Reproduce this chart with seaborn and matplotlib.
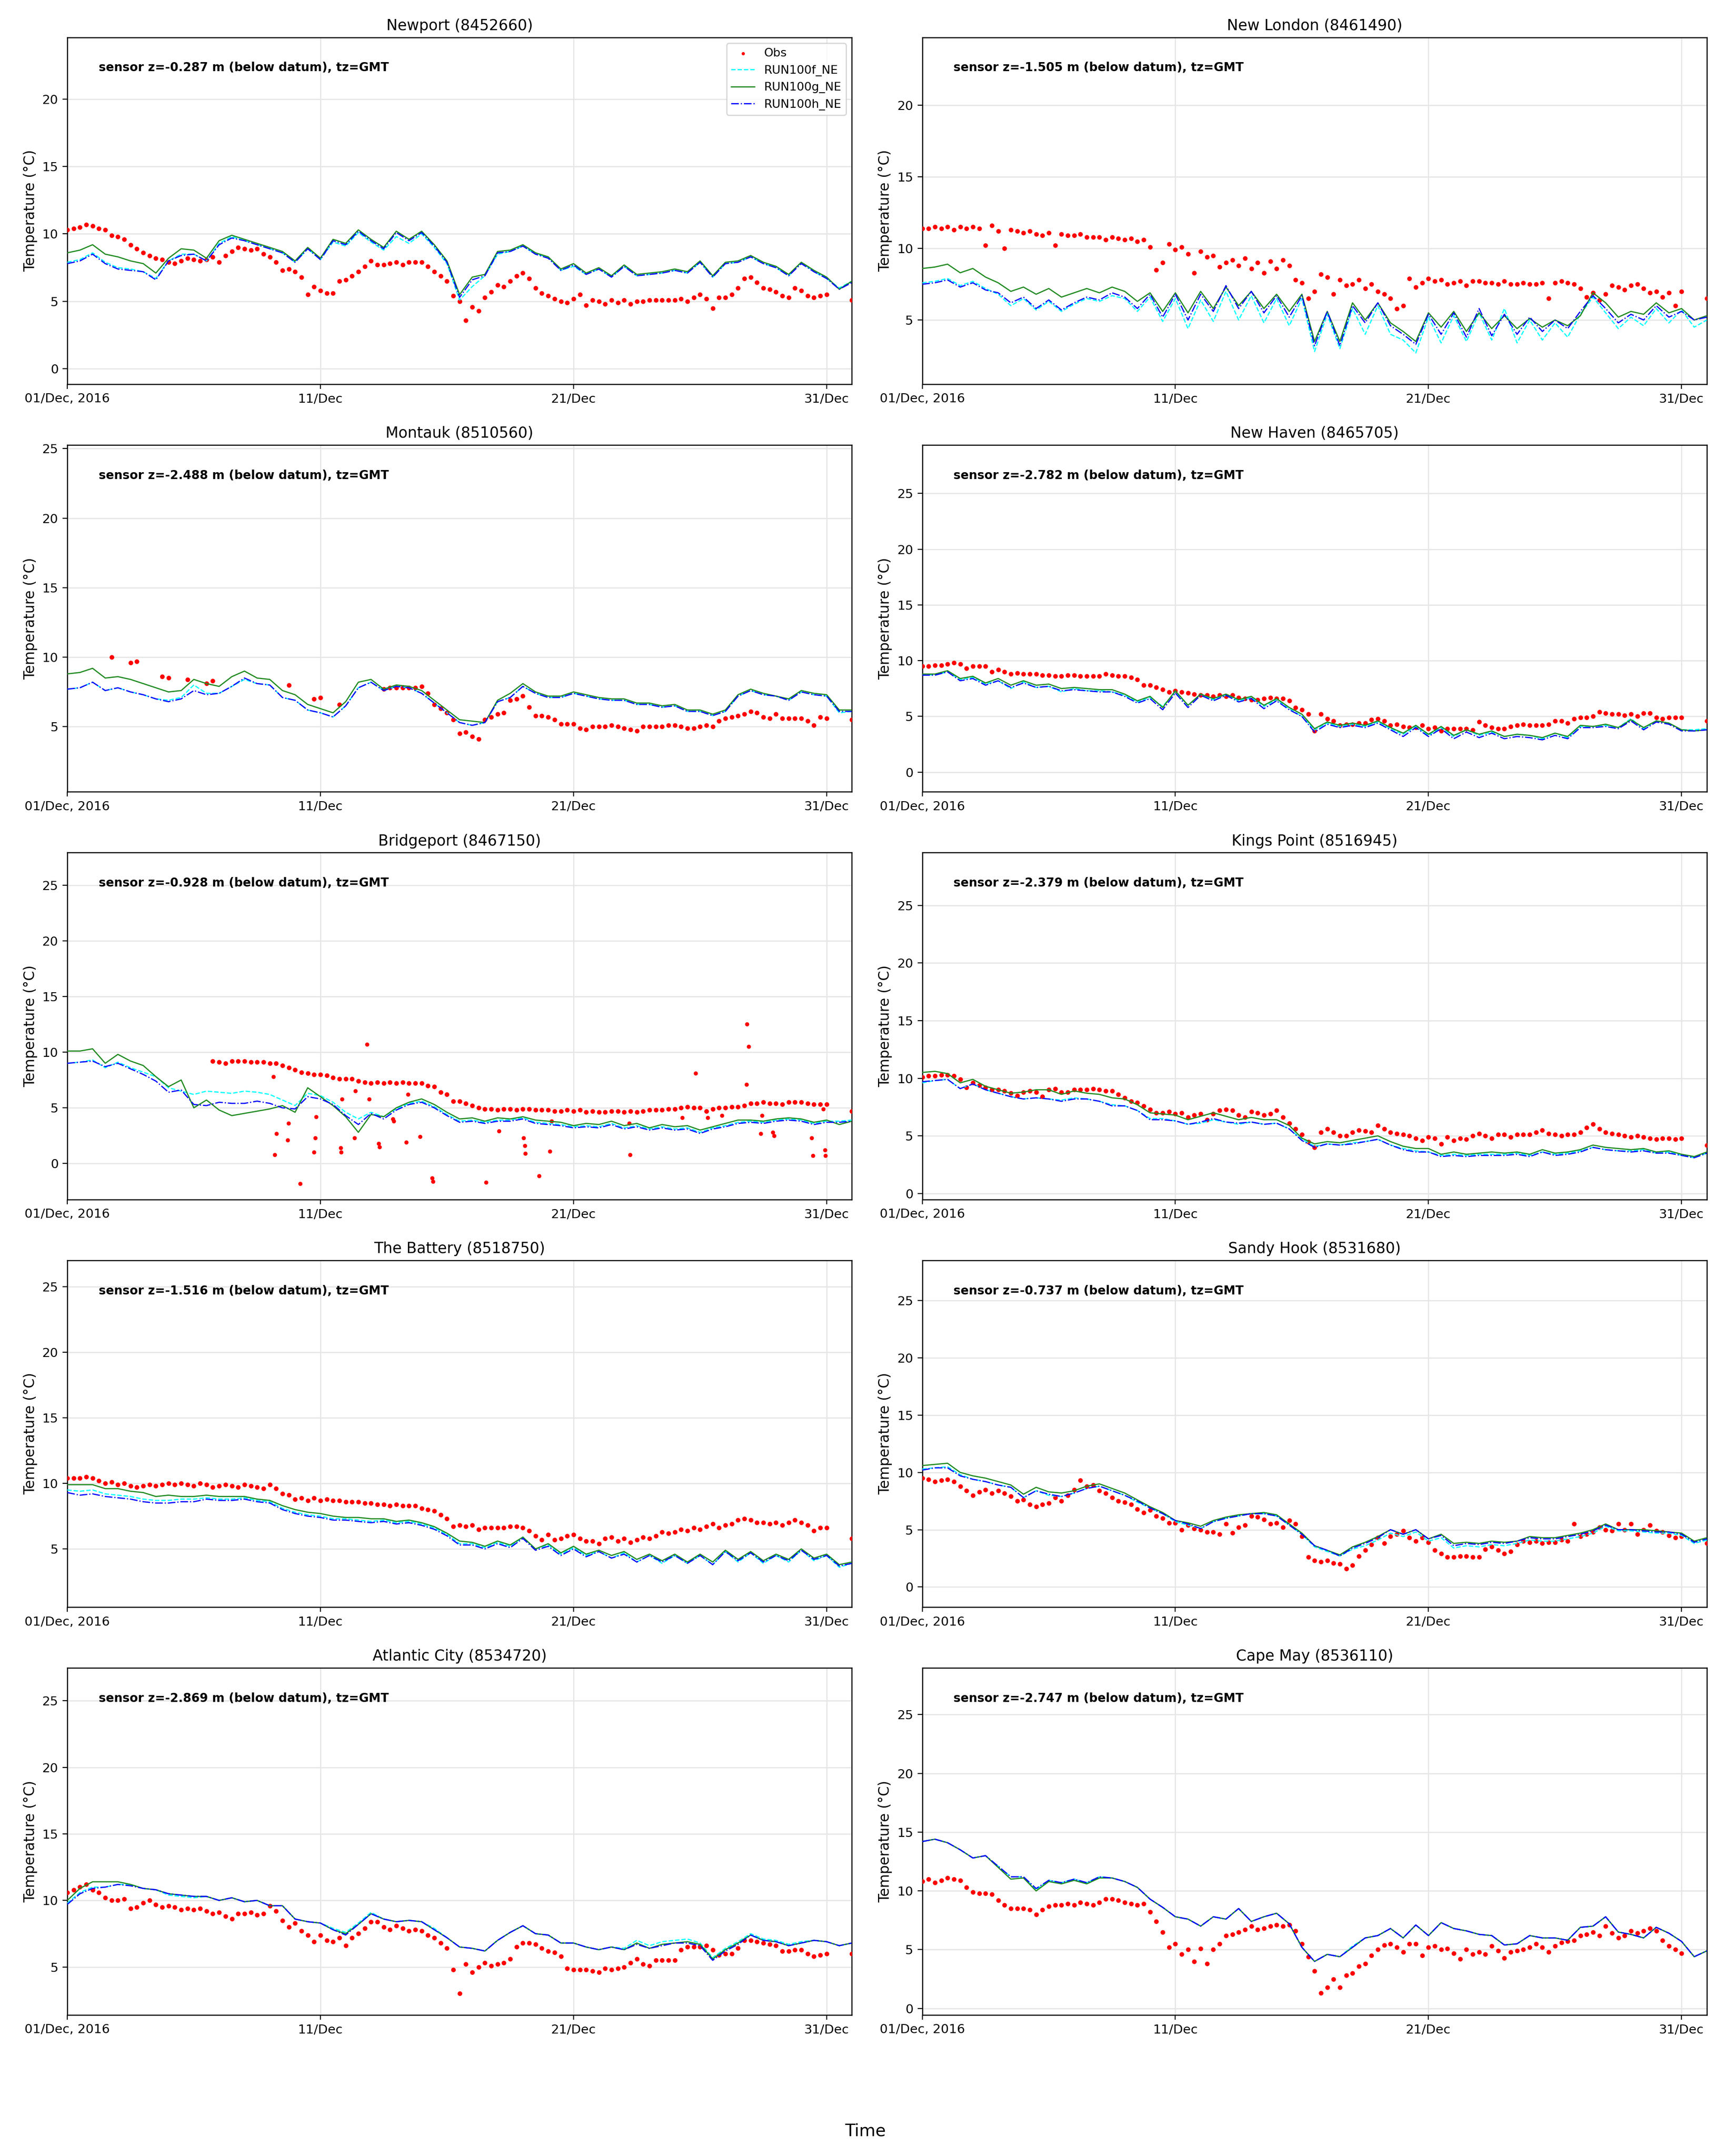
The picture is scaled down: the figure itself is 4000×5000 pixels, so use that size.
import numpy as np
import pandas as pd
import matplotlib
matplotlib.use("Agg")
import matplotlib.pyplot as plt
from matplotlib.ticker import MultipleLocator
import seaborn as sns

nan = np.nan

# time axes: obs every 6 h, model runs every 12 h, both from 01 Dec 2016 00:00 GMT
t_start = "2016-12-01 00:00"
obs_freq = "6h"
model_freq = "12h"

tick_days = ["2016-12-01", "2016-12-11", "2016-12-21", "2016-12-31"]
tick_labels = ["01/Dec, 2016", "11/Dec", "21/Dec", "31/Dec"]

station_names = ["Newport (8452660)", "New London (8461490)", "Montauk (8510560)",
                 "New Haven (8465705)", "Bridgeport (8467150)", "Kings Point (8516945)",
                 "The Battery (8518750)", "Sandy Hook (8531680)", "Atlantic City (8534720)",
                 "Cape May (8536110)"]
sensor_z = ["-0.287", "-1.505", "-2.488", "-2.782", "-0.928",
            "-2.379", "-1.516", "-0.737", "-2.869", "-2.747"]
y_limits = [(-1.13, 24.57), (0.52, 24.75), (0.32, 25.26), (-1.76, 29.35), (-3.23, 27.92),
            (-0.52, 29.58), (0.56, 27.02), (-1.76, 28.52), (1.41, 27.46), (-0.54, 28.97)]

run_names = ["RUN100f_NE", "RUN100g_NE", "RUN100h_NE"]

# ---------------- Newport ----------------
newport_obs = [
    10.3, 10.4, 10.5, 10.7,  10.6, 10.4, 10.3, 9.9,  9.8, 9.6, 9.2, 8.9,  8.6, 8.4, 8.2, 8.1,
    7.9, 7.8, 8.0, 8.2,  8.1, 8.0, 8.1, 8.3,  7.9, 8.4, 8.7, 9.0,  8.9, 8.8, 8.9, 8.5,
    8.3, 7.9, 7.3, 7.4,  7.2, 6.8, 5.5, 6.1,  5.8, 5.6, 5.6, 6.5,  6.6, 6.9, 7.2, 7.6,
    8.0, 7.7, 7.7, 7.8,  7.9, 7.7, 7.9, 7.9,  7.9, 7.6, 7.2, 6.9,  6.5, 5.4, 5.0, 3.6,
    4.6, 4.3, 5.3, 5.7,  6.2, 6.1, 6.5, 6.9,  7.1, 6.7, 6.0, 5.6,  5.4, 5.2, 5.0, 4.9,
    5.2, 5.5, 4.7, 5.1,  5.0, 4.8, 5.1, 4.9,  5.1, 4.8, 5.0, 5.0,  5.1, 5.1, 5.1, 5.1,
    5.1, 5.2, 5.0, 5.3,  5.5, 5.2, 4.5, 5.3,  5.3, 5.5, 6.0, 6.7,  6.8, 6.4, 6.0, 5.9,
    5.7, 5.4, 5.3, 6.0,  5.8, 5.4, 5.3, 5.4,  5.5, nan, nan, nan,  5.1]
newport_f = [
    7.9, 8.1, 8.6, 7.9, 7.5, 7.4, 7.2, 6.7, 8.0, 8.5,
    8.5, 8.0, 9.3, 9.8, 9.5, 9.2, 8.9, 8.6, 7.9, 8.9,
    8.1, 9.4, 9.1, 10.1, 9.4, 8.8, 9.8, 9.3, 10.0, 9.0,
    7.8, 5.1, 6.1, 6.9, 8.5, 8.7, 9.1, 8.5, 8.3, 7.3,
    7.6, 7.0, 7.4, 6.8, 7.6, 6.9, 7.0, 7.1, 7.3, 7.1,
    7.9, 6.8, 7.8, 7.9, 8.3, 7.8, 7.5, 6.9, 7.9, 7.2,
    6.7, 6.0, 6.5]
newport_g = [
    8.6, 8.8, 9.2, 8.5, 8.3, 8.0, 7.8, 7.1, 8.2, 8.9,
    8.8, 8.2, 9.5, 9.9, 9.6, 9.3, 9.0, 8.7, 8.0, 9.0,
    8.2, 9.6, 9.3, 10.3, 9.6, 9.0, 10.2, 9.6, 10.2, 9.2,
    8.0, 5.5, 6.8, 7.0, 8.7, 8.8, 9.2, 8.6, 8.3, 7.4,
    7.8, 7.1, 7.5, 6.9, 7.7, 7.0, 7.1, 7.2, 7.4, 7.2,
    8.0, 6.9, 7.9, 8.0, 8.4, 7.9, 7.6, 7.0, 7.9, 7.3,
    6.8, 5.9, 6.5]
newport_h = [
    7.8, 8.0, 8.5, 7.8, 7.4, 7.3, 7.2, 6.6, 8.0, 8.4,
    8.5, 8.0, 9.2, 9.7, 9.5, 9.2, 8.9, 8.6, 7.9, 8.9,
    8.1, 9.5, 9.2, 10.2, 9.5, 8.9, 10.1, 9.5, 10.1, 9.1,
    7.9, 5.3, 6.6, 6.9, 8.6, 8.7, 9.1, 8.5, 8.2, 7.3,
    7.7, 7.0, 7.4, 6.8, 7.6, 6.9, 7.0, 7.1, 7.3, 7.1,
    7.9, 6.8, 7.8, 7.9, 8.3, 7.8, 7.5, 6.9, 7.8, 7.2,
    6.7, 5.9, 6.4]

# ---------------- New London ----------------
newlondon_obs = [
    11.4, 11.4, 11.5, 11.4,  11.5, 11.3, 11.5, 11.4,  11.5, 11.4, 10.2, 11.6,  11.2, 10.0, 11.3, 11.2,
    11.1, 11.2, 11.0, 10.9,  11.1, 10.2, 11.0, 10.9,  10.9, 11.0, 10.8, 10.8,  10.8, 10.6, 10.8, 10.7,
    10.6, 10.7, 10.5, 10.6,  10.1, 8.5, 9.0, 10.3,  9.9, 10.1, 9.6, 8.3,  9.8, 9.4, 9.5, 8.7,
    9.0, 9.2, 8.8, 9.3,  8.6, 9.0, 8.3, 9.1,  8.6, 9.2, 8.8, 7.8,  7.6, 6.5, 7.0, 8.2,
    8.0, 6.8, 7.8, 7.4,  7.5, 7.8, 7.2, 7.5,  7.0, 6.8, 6.5, 5.8,  6.0, 7.9, 7.3, 7.6,
    7.9, 7.7, 7.8, 7.5,  7.6, 7.7, 7.4, 7.7,  7.7, 7.6, 7.6, 7.5,  7.7, 7.5, 7.5, 7.6,
    7.5, 7.5, 7.6, 6.5,  7.6, 7.7, 7.6, 7.5,  7.2, 6.6, 6.9, 6.4,  6.8, 7.4, 7.3, 7.1,
    7.4, 7.5, 7.2, 6.9,  7.0, 6.6, 6.9, 6.0,  7.0, nan, nan, nan,  6.5]
newlondon_f = [
    7.6, 7.7, 7.9, 7.4, 7.7, 7.2, 6.8, 6.0, 6.5, 5.7,
    6.3, 5.6, 6.1, 6.5, 6.3, 6.7, 6.5, 5.6, 6.6, 4.9,
    6.5, 4.4, 6.4, 4.9, 7.0, 5.0, 6.7, 4.8, 6.5, 4.6,
    6.5, 2.8, 5.4, 3.0, 5.8, 4.0, 6.0, 4.0, 3.6, 2.7,
    5.2, 3.4, 5.3, 3.5, 5.5, 3.6, 5.8, 3.4, 5.0, 3.6,
    4.8, 3.8, 5.4, 6.6, 5.5, 4.4, 5.2, 4.6, 5.8, 4.8,
    5.7, 4.5, 5.0]
newlondon_g = [
    8.6, 8.7, 8.9, 8.3, 8.6, 8.0, 7.6, 7.0, 7.3, 6.8,
    7.2, 6.6, 6.9, 7.2, 6.9, 7.3, 7.0, 6.3, 6.9, 5.6,
    6.9, 5.5, 7.0, 5.8, 7.3, 6.0, 7.0, 5.8, 6.8, 5.6,
    6.8, 3.5, 5.6, 3.5, 6.2, 5.0, 6.2, 4.8, 4.2, 3.5,
    5.5, 4.5, 5.6, 4.2, 5.5, 4.4, 5.3, 4.4, 5.1, 4.5,
    5.0, 4.6, 5.3, 6.9, 6.2, 5.2, 5.6, 5.4, 6.2, 5.5,
    5.8, 5.0, 5.3]
newlondon_h = [
    7.5, 7.6, 7.8, 7.3, 7.6, 7.1, 6.9, 6.2, 6.6, 5.8,
    6.4, 5.7, 6.2, 6.6, 6.4, 6.9, 6.6, 5.8, 6.8, 5.2,
    6.8, 5.0, 6.8, 5.6, 7.4, 5.8, 7.0, 5.5, 6.7, 5.2,
    6.7, 3.2, 5.6, 3.2, 6.0, 4.8, 6.2, 4.6, 4.0, 3.3,
    5.4, 4.0, 5.5, 3.8, 5.8, 3.9, 5.4, 4.0, 5.2, 4.2,
    5.0, 4.4, 5.6, 6.7, 5.8, 4.8, 5.4, 5.0, 6.0, 5.2,
    5.6, 5.0, 5.2]

# ---------------- Montauk ----------------
montauk_obs = [
    nan, nan, nan, nan,  nan, nan, nan, 10.0,  nan, nan, 9.6, 9.7,  nan, nan, nan, 8.6,
    8.5, nan, nan, 8.4,  nan, nan, 8.1, 8.3,  nan, nan, nan, nan,  nan, nan, nan, nan,
    nan, nan, nan, 8.0,  nan, nan, nan, 7.0,  7.1, nan, nan, 6.6,  nan, nan, nan, nan,
    nan, nan, 7.7, 7.8,  7.8, 7.8, 7.8, 7.8,  7.9, 7.4, 6.6, 6.3,  6.0, 5.5, 4.5, 4.6,
    4.3, 4.1, 5.5, 5.7,  5.9, 6.0, 6.9, 7.0,  7.2, 6.4, 5.8, 5.8,  5.7, 5.5, 5.2, 5.2,
    5.2, 4.9, 4.8, 5.0,  5.0, 5.0, 5.1, 5.0,  4.9, 4.8, 4.7, 5.0,  5.0, 5.0, 5.0, 5.1,
    5.1, 5.0, 4.9, 4.9,  5.0, 5.1, 5.0, 5.4,  5.6, 5.7, 5.8, 5.9,  6.1, 6.0, 5.7, 5.6,
    5.9, 5.6, 5.6, 5.6,  5.6, 5.4, 5.1, 5.7,  5.6, nan, nan, nan,  5.5]
montauk_f = [
    7.7, 7.8, 8.2, 7.6, 7.8, 7.5, 7.3, 7.0, 6.9, 7.1,
    8.0, 7.4, 7.4, 7.9, 8.4, 8.1, 8.0, 7.1, 6.9, 6.2,
    6.0, 5.7, 6.5, 7.8, 8.2, 7.6, 7.9, 7.8, 7.4, 6.7,
    6.0, 5.3, 5.1, 5.3, 6.8, 7.1, 7.9, 7.4, 7.1, 7.1,
    7.4, 7.2, 7.0, 6.9, 6.9, 6.6, 6.6, 6.4, 6.5, 6.1,
    6.1, 5.8, 6.1, 7.2, 7.6, 7.3, 7.2, 6.9, 7.5, 7.3,
    7.2, 6.0, 6.1]
montauk_g = [
    8.8, 8.9, 9.2, 8.5, 8.6, 8.4, 8.1, 7.8, 7.5, 7.6,
    8.4, 8.1, 7.9, 8.6, 9.0, 8.5, 8.4, 7.6, 7.3, 6.6,
    6.3, 6.0, 6.8, 8.2, 8.4, 7.7, 8.0, 7.9, 7.6, 6.9,
    6.2, 5.5, 5.4, 5.3, 6.9, 7.4, 8.1, 7.5, 7.2, 7.2,
    7.5, 7.3, 7.1, 7.0, 7.0, 6.7, 6.7, 6.5, 6.6, 6.2,
    6.2, 5.9, 6.2, 7.3, 7.7, 7.4, 7.2, 7.0, 7.6, 7.4,
    7.3, 6.2, 6.2]
montauk_h = [
    7.7, 7.8, 8.2, 7.6, 7.8, 7.5, 7.3, 7.0, 6.8, 7.0,
    7.6, 7.3, 7.4, 7.9, 8.5, 8.1, 8.0, 7.1, 6.9, 6.2,
    6.0, 5.7, 6.5, 7.8, 8.2, 7.6, 7.9, 7.8, 7.4, 6.7,
    6.0, 5.3, 5.1, 5.3, 6.8, 7.1, 7.9, 7.4, 7.1, 7.1,
    7.4, 7.2, 7.0, 6.9, 6.9, 6.6, 6.6, 6.4, 6.5, 6.1,
    6.1, 5.8, 6.1, 7.2, 7.6, 7.3, 7.2, 6.9, 7.5, 7.3,
    7.2, 6.1, 6.1]

# ---------------- New Haven ----------------
newhaven_obs = [
    9.5, 9.5, 9.6, 9.6,  9.7, 9.8, 9.7, 9.3,  9.5, 9.5, 9.5, 9.0,  9.2, 9.0, 8.8, 8.9,
    8.8, 8.8, 8.8, 8.7,  8.7, 8.6, 8.6, 8.7,  8.7, 8.6, 8.6, 8.6,  8.6, 8.8, 8.7, 8.6,
    8.6, 8.5, 8.3, 7.8,  7.8, 7.6, 7.4, 7.2,  7.3, 7.2, 7.1, 7.0,  6.9, 6.9, 6.8, 6.9,
    6.8, 6.9, 6.7, 6.6,  6.5, 6.5, 6.6, 6.7,  6.6, 6.6, 6.4, 5.8,  5.6, 5.2, 3.7, 5.2,
    4.8, 4.6, 4.2, 4.3,  4.3, 4.4, 4.4, 4.7,  4.8, 4.6, 4.2, 4.3,  4.1, 4.0, 4.0, 4.2,
    3.9, 4.0, 3.7, 3.9,  3.9, 3.9, 3.9, 3.8,  4.5, 4.2, 4.0, 3.9,  3.9, 4.1, 4.2, 4.3,
    4.2, 4.2, 4.2, 4.3,  4.6, 4.6, 4.4, 4.8,  4.9, 4.9, 5.0, 5.4,  5.3, 5.2, 5.2, 5.1,
    5.2, 5.0, 5.3, 5.3,  4.9, 4.8, 4.9, 4.9,  4.9, nan, nan, nan,  4.6]
newhaven_f = [
    8.8, 8.7, 9.0, 8.3, 8.5, 7.9, 8.2, 7.5, 8.1, 7.6,
    7.7, 7.2, 7.5, 7.3, 7.3, 7.2, 6.9, 6.3, 6.7, 5.9,
    7.2, 6.0, 7.0, 6.5, 6.9, 6.4, 6.7, 5.9, 6.5, 5.7,
    5.0, 3.8, 4.4, 4.1, 4.3, 4.1, 4.5, 3.9, 3.4, 4.1,
    3.3, 4.0, 3.2, 3.8, 3.3, 3.6, 3.2, 3.4, 3.3, 3.0,
    3.5, 3.1, 4.1, 4.1, 4.2, 4.0, 4.8, 3.9, 4.6, 4.4,
    3.8, 3.8, 3.9]
newhaven_g = [
    8.8, 8.8, 9.1, 8.4, 8.6, 8.0, 8.4, 7.8, 8.2, 7.8,
    7.9, 7.5, 7.6, 7.5, 7.4, 7.4, 7.0, 6.4, 6.8, 5.8,
    7.3, 6.0, 7.0, 6.6, 7.0, 6.5, 6.8, 6.0, 6.6, 5.8,
    5.2, 3.9, 4.5, 4.2, 4.4, 4.2, 4.6, 4.0, 3.5, 4.2,
    3.4, 4.1, 3.3, 3.8, 3.4, 3.7, 3.2, 3.4, 3.3, 3.1,
    3.5, 3.2, 4.2, 4.1, 4.3, 4.0, 4.7, 4.0, 4.6, 4.4,
    3.8, 3.7, 3.8]
newhaven_h = [
    8.7, 8.7, 9.0, 8.2, 8.4, 7.8, 8.2, 7.6, 8.0, 7.6,
    7.7, 7.3, 7.4, 7.3, 7.2, 7.2, 6.8, 6.2, 6.6, 5.6,
    7.1, 5.8, 6.9, 6.4, 6.9, 6.3, 6.6, 5.7, 6.4, 5.6,
    5.0, 3.6, 4.3, 4.0, 4.2, 4.0, 4.4, 3.8, 3.2, 4.0,
    3.2, 3.9, 3.0, 3.6, 3.1, 3.5, 3.0, 3.2, 3.1, 2.9,
    3.3, 3.0, 4.0, 4.0, 4.1, 3.9, 4.6, 3.8, 4.5, 4.3,
    3.7, 3.7, 3.8]

# ---------------- Bridgeport ----------------
bridgeport_obs = [
    nan, nan, nan, nan,  nan, nan, nan, nan,  nan, nan, nan, nan,  nan, nan, nan, nan,
    nan, nan, nan, nan,  nan, nan, nan, 9.2,  9.1, 9.0, 9.2, 9.2,  9.2, 9.1, 9.1, 9.1,
    9.0, 9.0, 8.8, 8.6,  8.4, 8.2, 8.1, 8.0,  8.0, 7.9, 7.7, 7.6,  7.6, 7.6, 7.4, 7.3,
    7.2, 7.3, 7.2, 7.3,  7.2, 7.3, 7.2, 7.2,  7.2, 7.0, 6.9, 6.4,  6.2, 5.6, 5.6, 5.4,
    5.2, 5.0, 4.9, 4.9,  4.8, 4.9, 4.9, 4.8,  4.9, 4.9, 4.8, 4.8,  4.8, 4.7, 4.7, 4.8,
    4.7, 4.8, 4.6, 4.7,  4.6, 4.6, 4.7, 4.7,  4.6, 4.7, 4.6, 4.7,  4.8, 4.8, 4.8, 4.9,
    4.9, 5.0, 5.1, 5.0,  5.0, 4.7, 4.9, 5.0,  5.0, 5.1, 5.1, 5.2,  5.4, 5.4, 5.5, 5.4,
    5.4, 5.3, 5.5, 5.5,  5.5, 5.4, 5.3, 5.3,  5.3, nan, nan, nan,  4.7]
# isolated spikes in the Bridgeport record (days after 01 Dec 00:00, temperature)
bridgeport_spike_day = [8.15, 8.26, 8.19, 8.70, 8.74, 9.20, 9.74, 9.79, 9.83, 10.80,
                        10.82, 10.86, 11.34, 11.38, 11.84, 11.93, 12.30, 12.34, 12.87, 12.89,
                        13.40, 13.46, 13.94, 14.42, 14.44, 16.54, 17.06, 18.03, 18.07, 18.10,
                        18.64, 19.07, 19.14, 22.24, 22.20, 24.30, 24.82, 25.30, 25.87, 26.85,
                        26.92, 26.83, 27.40, 27.44, 27.88, 27.92, 29.40, 29.45, 29.93, 29.96,
                        29.87]
bridgeport_spike_temp = [7.8, 2.7, 0.8, 2.1, 3.6, -1.8, 1.0, 2.3, 4.2, 1.4,
                         1.0, 5.8, 2.3, 6.5, 10.7, 5.8, 1.8, 1.5, 4.0, 3.8,
                         1.9, 6.2, 2.4, -1.3, -1.6, -1.7, 2.9, 2.3, 1.6, 0.9,
                         -1.1, 1.1, 3.8, 0.8, 3.6, 4.1, 8.1, 4.1, 4.3, 12.5,
                         10.5, 7.1, 2.7, 4.3, 2.8, 2.5, 2.3, 0.7, 1.2, 0.7,
                         4.9]
bridgeport_f = [
    9.0, 9.1, 9.3, 8.6, 9.1, 8.6, 8.2, 7.8, 6.8, 6.5,
    6.2, 6.5, 6.4, 6.3, 6.5, 6.4, 6.2, 5.7, 5.2, 6.3,
    6.1, 5.5, 4.6, 4.0, 4.6, 4.2, 4.9, 5.4, 5.6, 5.1,
    4.4, 3.8, 3.9, 3.7, 3.9, 3.9, 4.1, 3.7, 3.6, 3.5,
    3.3, 3.4, 3.3, 3.6, 3.2, 3.4, 3.1, 3.3, 3.1, 3.2,
    2.8, 3.2, 3.4, 3.7, 3.8, 3.7, 3.9, 4.0, 3.9, 3.6,
    3.8, 3.8, 3.9]
bridgeport_g = [
    10.1, 10.1, 10.3, 9.0, 9.8, 9.2, 8.8, 7.8, 6.9, 7.5,
    5.0, 5.7, 4.8, 4.3, 4.5, 4.7, 4.9, 5.2, 4.6, 6.8,
    6.0, 5.2, 4.2, 2.8, 4.4, 4.2, 5.0, 5.5, 5.8, 5.3,
    4.6, 4.0, 4.1, 3.8, 4.1, 4.0, 4.2, 3.9, 3.8, 3.7,
    3.4, 3.6, 3.5, 3.8, 3.4, 3.6, 3.2, 3.5, 3.3, 3.4,
    3.0, 3.3, 3.6, 3.9, 3.9, 3.8, 4.0, 4.1, 4.0, 3.7,
    3.9, 3.5, 3.8]
bridgeport_h = [
    9.0, 9.1, 9.2, 8.7, 9.0, 8.5, 8.0, 7.4, 6.4, 6.6,
    5.3, 5.2, 5.5, 5.4, 5.4, 5.6, 5.4, 5.0, 4.9, 6.0,
    5.8, 5.3, 4.3, 3.5, 4.5, 4.0, 4.8, 5.3, 5.5, 5.0,
    4.3, 3.7, 3.8, 3.6, 3.8, 3.8, 4.0, 3.6, 3.5, 3.4,
    3.2, 3.3, 3.2, 3.5, 3.1, 3.3, 3.0, 3.2, 3.0, 3.1,
    2.7, 3.1, 3.3, 3.6, 3.7, 3.6, 3.8, 3.9, 3.8, 3.5,
    3.7, 3.7, 3.8]

# ---------------- Kings Point ----------------
kingspoint_obs = [
    10.1, 10.2, 10.2, 10.3,  10.3, 10.2, 9.9, 9.2,  9.6, 9.4, 9.2, 9.0,  9.0, 8.9, 8.7, 8.5,
    8.8, 8.9, 8.8, 8.4,  9.0, 9.1, 8.8, 8.8,  9.0, 9.0, 9.0, 9.1,  9.0, 8.9, 8.9, 8.6,
    8.3, 8.0, 7.9, 7.6,  7.3, 7.0, 7.0, 7.1,  6.9, 7.0, 6.6, 6.8,  6.9, 6.4, 6.9, 7.2,
    7.3, 7.2, 6.8, 6.6,  7.1, 7.0, 6.8, 6.9,  7.2, 6.6, 6.1, 5.6,  5.1, 4.5, 4.0, 5.3,
    5.6, 5.3, 5.0, 5.0,  5.3, 5.5, 5.4, 5.3,  5.9, 5.6, 5.3, 5.2,  5.1, 5.0, 4.8, 4.6,
    4.9, 4.8, 4.3, 4.9,  4.6, 4.8, 4.7, 5.0,  5.2, 5.0, 4.8, 5.1,  5.1, 4.9, 5.1, 5.1,
    5.1, 5.3, 5.5, 5.2,  5.1, 5.0, 5.1, 5.1,  5.3, 5.7, 6.0, 5.6,  5.3, 5.2, 5.1, 5.0,
    4.9, 5.0, 4.9, 4.8,  4.7, 4.8, 4.8, 4.7,  4.8, nan, nan, nan,  4.2]
kingspoint_f = [
    9.6, 9.8, 9.9, 9.1, 9.5, 9.0, 8.7, 8.4, 8.2, 8.3,
    8.2, 8.1, 8.3, 8.2, 8.0, 7.7, 7.6, 7.2, 6.5, 6.5,
    6.3, 6.0, 6.1, 6.4, 6.2, 6.0, 6.2, 6.0, 6.1, 5.6,
    4.7, 4.1, 4.3, 4.2, 4.4, 4.5, 4.7, 4.2, 3.9, 3.7,
    3.6, 3.3, 3.4, 3.3, 3.4, 3.4, 3.4, 3.5, 3.3, 3.6,
    3.4, 3.5, 3.7, 4.0, 3.8, 3.7, 3.7, 3.8, 3.5, 3.6,
    3.3, 3.1, 3.5]
kingspoint_g = [
    10.5, 10.6, 10.4, 9.6, 9.9, 9.3, 9.0, 8.7, 8.8, 9.0,
    9.0, 8.6, 8.9, 8.7, 8.6, 8.3, 8.2, 7.7, 7.0, 6.9,
    6.8, 6.4, 6.7, 7.0, 6.7, 6.4, 6.6, 6.4, 6.4, 5.9,
    4.8, 4.3, 4.5, 4.4, 4.6, 4.8, 5.0, 4.5, 4.1, 3.9,
    3.9, 3.4, 3.6, 3.4, 3.5, 3.6, 3.5, 3.6, 3.4, 3.8,
    3.5, 3.6, 3.8, 4.2, 4.0, 3.9, 3.8, 3.9, 3.6, 3.7,
    3.4, 3.2, 3.6]
kingspoint_h = [
    9.7, 9.8, 9.9, 9.1, 9.5, 9.0, 8.7, 8.4, 8.2, 8.3,
    8.2, 8.0, 8.2, 8.2, 8.0, 7.6, 7.6, 7.2, 6.4, 6.4,
    6.3, 6.0, 6.2, 6.5, 6.2, 6.1, 6.2, 6.0, 6.1, 5.6,
    4.6, 4.0, 4.3, 4.2, 4.3, 4.5, 4.7, 4.2, 3.8, 3.6,
    3.6, 3.2, 3.3, 3.2, 3.3, 3.3, 3.3, 3.4, 3.2, 3.6,
    3.3, 3.4, 3.6, 4.0, 3.8, 3.7, 3.6, 3.7, 3.5, 3.5,
    3.3, 3.1, 3.5]

# ---------------- The Battery ----------------
battery_obs = [
    10.4, 10.4, 10.4, 10.5,  10.4, 10.2, 10.0, 10.1,  9.9, 10.0, 9.8, 9.7,  9.8, 9.9, 9.8, 9.9,
    10.0, 9.9, 10.0, 9.9,  9.8, 10.0, 9.9, 9.7,  9.8, 9.9, 9.8, 9.7,  9.9, 9.8, 9.7, 9.6,
    9.9, 9.6, 9.2, 9.1,  8.8, 8.9, 8.7, 8.9,  8.7, 8.8, 8.7, 8.7,  8.6, 8.6, 8.6, 8.5,
    8.5, 8.4, 8.4, 8.3,  8.4, 8.3, 8.3, 8.3,  8.1, 8.0, 7.9, 7.6,  7.3, 6.7, 6.8, 6.7,
    6.8, 6.5, 6.6, 6.6,  6.6, 6.6, 6.7, 6.7,  6.6, 6.4, 6.0, 5.7,  6.1, 5.7, 5.8, 6.0,
    6.1, 5.8, 5.6, 5.6,  5.4, 5.8, 5.9, 5.6,  5.8, 5.5, 5.7, 5.9,  5.8, 6.0, 6.3, 6.2,
    6.3, 6.5, 6.4, 6.6,  6.5, 6.7, 6.9, 6.6,  6.8, 6.9, 7.2, 7.3,  7.2, 7.0, 7.0, 6.9,
    7.0, 6.8, 7.0, 7.2,  7.0, 6.8, 6.4, 6.6,  6.6, nan, nan, nan,  5.8]
battery_f = [
    9.5, 9.4, 9.5, 9.2, 9.1, 9.0, 8.8, 8.7, 8.7, 8.8,
    8.8, 8.9, 8.8, 8.8, 8.9, 8.7, 8.6, 8.1, 7.8, 7.6,
    7.5, 7.3, 7.3, 7.2, 7.1, 7.2, 7.0, 7.1, 6.9, 6.6,
    6.1, 5.4, 5.4, 5.1, 5.5, 5.2, 5.9, 5.0, 5.3, 4.6,
    5.1, 4.5, 4.8, 4.3, 4.7, 4.0, 4.5, 3.9, 4.5, 3.9,
    4.5, 3.8, 4.8, 4.0, 4.7, 3.9, 4.5, 4.0, 4.9, 4.1,
    4.5, 3.6, 3.9]
battery_g = [
    9.9, 9.9, 9.9, 9.6, 9.6, 9.4, 9.3, 9.0, 9.1, 9.0,
    9.0, 9.1, 9.0, 9.0, 9.0, 8.8, 8.7, 8.3, 8.0, 7.8,
    7.7, 7.5, 7.4, 7.4, 7.3, 7.3, 7.1, 7.2, 7.0, 6.7,
    6.2, 5.6, 5.5, 5.2, 5.6, 5.3, 5.9, 5.0, 5.4, 4.7,
    5.2, 4.6, 4.9, 4.5, 4.8, 4.2, 4.6, 4.1, 4.6, 4.0,
    4.6, 4.0, 4.9, 4.2, 4.8, 4.1, 4.6, 4.2, 5.0, 4.3,
    4.6, 3.8, 4.0]
battery_h = [
    9.3, 9.1, 9.2, 9.0, 8.9, 8.8, 8.6, 8.5, 8.5, 8.6,
    8.6, 8.8, 8.7, 8.7, 8.8, 8.6, 8.5, 8.0, 7.7, 7.5,
    7.4, 7.2, 7.2, 7.1, 7.0, 7.1, 6.9, 7.0, 6.8, 6.5,
    6.0, 5.3, 5.3, 5.0, 5.4, 5.1, 5.8, 4.9, 5.2, 4.5,
    5.0, 4.4, 4.8, 4.3, 4.6, 4.0, 4.5, 4.0, 4.5, 3.9,
    4.5, 3.8, 4.8, 4.1, 4.7, 4.0, 4.5, 4.1, 4.9, 4.2,
    4.5, 3.7, 3.9]

# ---------------- Sandy Hook ----------------
sandyhook_obs = [
    9.5, 9.4, 9.2, 9.3,  9.4, 9.2, 8.8, 8.4,  8.0, 8.3, 8.5, 8.2,  8.4, 8.2, 7.9, 7.5,
    7.6, 7.2, 7.0, 7.2,  7.3, 7.8, 7.5, 8.0,  8.5, 9.3, 8.8, 8.9,  8.4, 8.2, 7.8, 7.5,
    7.4, 7.2, 6.8, 6.5,  6.7, 6.2, 6.0, 5.6,  5.6, 5.0, 5.4, 5.1,  5.0, 4.8, 4.8, 4.6,
    5.5, 4.7, 5.2, 5.4,  6.2, 6.1, 5.9, 5.5,  5.6, 5.2, 5.8, 5.5,  4.4, 2.6, 2.3, 2.2,
    2.3, 2.1, 2.0, 1.6,  1.9, 2.7, 3.2, 3.7,  4.3, 3.8, 4.4, 4.6,  4.9, 4.3, 4.0, 4.3,
    3.9, 3.2, 2.9, 2.6,  2.6, 2.7, 2.7, 2.6,  2.6, 3.3, 3.5, 3.2,  2.9, 3.1, 3.7, 4.0,
    3.9, 4.0, 3.8, 3.9,  3.9, 4.1, 4.0, 5.5,  4.4, 4.6, 4.8, 5.2,  5.0, 4.9, 5.5, 5.0,
    5.5, 4.6, 5.0, 5.4,  4.9, 4.8, 4.5, 4.3,  4.4, nan, nan, nan,  3.8]
sandyhook_f = [
    10.3, 10.4, 10.5, 9.8, 9.4, 9.2, 8.9, 8.7, 7.8, 8.4,
    8.0, 7.9, 8.2, 8.6, 8.8, 8.4, 8.0, 7.4, 6.9, 6.4,
    5.7, 5.4, 5.1, 5.7, 6.0, 6.2, 6.4, 6.4, 6.2, 5.4,
    4.6, 3.5, 3.1, 2.7, 3.3, 3.6, 4.1, 4.7, 4.4, 4.8,
    4.0, 4.3, 3.4, 3.6, 3.5, 3.7, 3.6, 3.8, 4.1, 4.0,
    4.0, 4.2, 4.4, 4.7, 5.3, 4.9, 4.9, 4.8, 4.7, 4.7,
    4.5, 3.8, 4.1]
sandyhook_g = [
    10.6, 10.7, 10.8, 10.0, 9.7, 9.5, 9.2, 8.9, 8.1, 8.7,
    8.3, 8.2, 8.4, 8.8, 9.0, 8.6, 8.2, 7.6, 7.0, 6.5,
    5.8, 5.6, 5.3, 5.8, 6.1, 6.3, 6.4, 6.5, 6.3, 5.5,
    4.7, 3.6, 3.2, 2.8, 3.5, 3.9, 4.4, 5.0, 4.6, 5.0,
    4.2, 4.6, 3.8, 3.9, 3.8, 4.0, 3.9, 4.0, 4.4, 4.3,
    4.3, 4.5, 4.7, 5.0, 5.5, 5.0, 5.0, 5.0, 4.9, 4.8,
    4.7, 4.0, 4.3]
sandyhook_h = [
    10.2, 10.4, 10.4, 9.7, 9.4, 9.2, 8.9, 8.7, 7.8, 8.4,
    8.1, 7.9, 8.2, 8.6, 8.8, 8.4, 8.0, 7.5, 6.9, 6.4,
    5.8, 5.5, 5.1, 5.7, 6.0, 6.2, 6.4, 6.4, 6.2, 5.4,
    4.6, 3.6, 3.2, 2.7, 3.4, 3.8, 4.3, 5.0, 4.6, 5.0,
    4.2, 4.5, 3.6, 3.8, 3.7, 3.9, 3.8, 4.0, 4.3, 4.2,
    4.2, 4.4, 4.6, 4.9, 5.4, 5.0, 5.0, 4.9, 4.8, 4.8,
    4.6, 3.9, 4.2]

# ---------------- Atlantic City ----------------
atlanticcity_obs = [
    10.6, 10.8, 11.0, 11.2,  10.8, 10.6, 10.2, 10.0,  10.0, 10.1, 9.4, 9.5,  9.8, 10.0, 9.7, 9.5,
    9.6, 9.5, 9.3, 9.4,  9.3, 9.4, 9.2, 9.0,  9.1, 8.8, 8.6, 9.0,  9.0, 9.1, 8.9, 9.0,
    9.6, 9.2, 8.5, 8.0,  8.3, 7.7, 7.4, 6.9,  7.4, 7.0, 6.9, 7.2,  6.6, 7.2, 7.5, 7.9,
    8.4, 8.4, 8.0, 7.8,  8.1, 7.9, 7.7, 7.8,  7.7, 7.4, 7.2, 6.8,  6.4, 4.8, 3.0, 5.2,
    4.6, 5.0, 5.3, 5.1,  5.2, 5.3, 5.6, 6.5,  6.8, 6.8, 6.7, 6.4,  6.2, 6.1, 5.8, 4.9,
    4.8, 4.8, 4.8, 4.7,  4.6, 4.9, 4.8, 4.9,  5.0, 5.3, 5.6, 5.2,  5.1, 5.5, 5.5, 5.5,
    5.5, 6.3, 6.5, 6.5,  6.5, 6.6, 6.3, 5.9,  6.0, 6.0, 6.4, 7.0,  7.0, 6.9, 6.8, 6.7,
    6.6, 6.2, 6.2, 6.3,  6.3, 6.0, 5.8, 5.9,  6.0, nan, nan, nan,  6.0]
atlanticcity_f = [
    9.8, 10.6, 11.0, 11.0, 11.2, 11.2, 10.9, 10.8, 10.4, 10.3,
    10.2, 10.3, 10.0, 10.2, 9.9, 10.0, 9.6, 9.6, 8.6, 8.4,
    8.3, 7.9, 7.6, 8.3, 9.1, 8.6, 8.4, 8.5, 8.4, 7.9,
    7.2, 6.5, 6.4, 6.2, 7.0, 7.6, 8.1, 7.5, 7.4, 6.8,
    6.8, 6.5, 6.3, 6.5, 6.4, 7.0, 6.6, 6.9, 7.0, 7.1,
    6.8, 5.7, 6.4, 6.9, 7.5, 7.1, 7.0, 6.7, 6.9, 7.0,
    6.9, 6.6, 6.8]
atlanticcity_g = [
    10.0, 10.9, 11.4, 11.4, 11.4, 11.2, 10.9, 10.8, 10.5, 10.4,
    10.3, 10.3, 10.0, 10.2, 9.9, 10.0, 9.6, 9.6, 8.6, 8.4,
    8.3, 7.8, 7.5, 8.2, 9.0, 8.6, 8.4, 8.5, 8.4, 7.8,
    7.2, 6.5, 6.4, 6.2, 7.0, 7.6, 8.1, 7.5, 7.4, 6.8,
    6.8, 6.5, 6.3, 6.5, 6.3, 6.8, 6.4, 6.7, 6.8, 6.9,
    6.7, 5.6, 6.3, 6.8, 7.4, 7.0, 6.9, 6.6, 6.8, 7.0,
    6.9, 6.6, 6.8]
atlanticcity_h = [
    9.7, 10.5, 10.9, 11.0, 11.2, 11.1, 10.9, 10.8, 10.5, 10.4,
    10.3, 10.3, 10.0, 10.2, 9.9, 10.0, 9.6, 9.6, 8.6, 8.4,
    8.3, 7.8, 7.4, 8.2, 9.0, 8.6, 8.4, 8.5, 8.4, 7.8,
    7.2, 6.5, 6.4, 6.2, 7.0, 7.6, 8.1, 7.5, 7.4, 6.8,
    6.8, 6.5, 6.3, 6.5, 6.3, 6.7, 6.4, 6.6, 6.8, 6.8,
    6.6, 5.5, 6.2, 6.7, 7.4, 7.0, 6.9, 6.6, 6.8, 7.0,
    6.9, 6.6, 6.8]

# ---------------- Cape May ----------------
capemay_obs = [
    10.8, 11.0, 10.7, 10.9,  11.1, 11.0, 10.9, 10.3,  9.9, 9.8, 9.8, 9.7,  9.2, 8.8, 8.5, 8.5,
    8.5, 8.4, 8.0, 8.4,  8.7, 8.8, 8.8, 8.9,  8.8, 9.0, 8.9, 8.8,  9.0, 9.3, 9.3, 9.2,
    9.0, 8.9, 8.8, 8.9,  8.2, 7.4, 6.5, 5.2,  5.5, 4.6, 5.0, 4.0,  5.1, 3.8, 5.0, 5.5,
    6.2, 6.3, 6.5, 6.7,  7.0, 6.7, 6.8, 7.0,  7.1, 7.0, 7.1, 6.6,  5.5, 4.4, 3.2, 1.3,
    1.8, 2.5, 1.8, 2.8,  3.0, 3.6, 3.8, 4.5,  5.0, 5.4, 5.5, 5.2,  4.8, 5.5, 5.5, 4.5,
    5.2, 5.3, 5.0, 5.1,  4.7, 4.2, 5.0, 4.6,  4.8, 4.6, 5.3, 4.9,  4.3, 4.8, 4.9, 5.0,
    5.2, 5.5, 5.2, 4.8,  5.3, 5.6, 5.7, 5.8,  6.2, 6.3, 6.5, 6.2,  7.0, 6.4, 6.0, 6.2,
    6.6, 6.4, 6.6, 6.8,  6.6, 5.8, 5.3, 5.0,  4.7, nan, nan, nan,  nan]
capemay_f = [
    14.2, 14.4, 14.1, 13.5, 12.8, 13.0, 12.1, 11.2, 11.2, 10.1,
    10.9, 10.7, 11.0, 10.7, 11.2, 11.1, 10.8, 10.3, 9.3, 8.6,
    7.8, 7.6, 7.0, 7.8, 7.6, 8.5, 7.4, 7.8, 8.1, 7.2,
    5.2, 4.0, 4.6, 4.4, 5.3, 6.0, 6.2, 6.8, 6.0, 7.1,
    6.2, 7.3, 6.8, 6.6, 6.3, 6.2, 5.4, 5.5, 6.2, 6.0,
    6.0, 5.8, 6.9, 7.0, 7.8, 6.5, 6.3, 6.0, 6.9, 6.4,
    5.7, 4.4, 4.9]
capemay_g = [
    14.2, 14.4, 14.1, 13.5, 12.8, 13.0, 12.0, 11.0, 11.1, 10.0,
    10.8, 10.6, 10.9, 10.6, 11.1, 11.1, 10.8, 10.3, 9.3, 8.6,
    7.8, 7.6, 7.0, 7.8, 7.6, 8.5, 7.4, 7.8, 8.1, 7.2,
    5.2, 4.0, 4.6, 4.4, 5.2, 6.0, 6.2, 6.8, 6.0, 7.1,
    6.2, 7.3, 6.8, 6.6, 6.3, 6.2, 5.4, 5.5, 6.2, 6.0,
    6.0, 5.8, 6.9, 7.0, 7.8, 6.5, 6.3, 6.0, 6.9, 6.4,
    5.7, 4.4, 4.9]
capemay_h = [
    14.2, 14.4, 14.1, 13.5, 12.8, 13.0, 12.1, 11.2, 11.2, 10.2,
    10.9, 10.7, 11.0, 10.7, 11.2, 11.1, 10.8, 10.3, 9.3, 8.6,
    7.8, 7.6, 7.0, 7.8, 7.6, 8.5, 7.4, 7.8, 8.1, 7.2,
    5.2, 4.0, 4.6, 4.4, 5.2, 6.0, 6.2, 6.8, 6.0, 7.1,
    6.2, 7.3, 6.8, 6.6, 6.3, 6.2, 5.4, 5.5, 6.2, 6.0,
    6.0, 5.8, 6.9, 7.0, 7.8, 6.5, 6.3, 6.0, 6.9, 6.4,
    5.7, 4.4, 4.9]

obs_series = [newport_obs, newlondon_obs, montauk_obs, newhaven_obs, bridgeport_obs,
              kingspoint_obs, battery_obs, sandyhook_obs, atlanticcity_obs, capemay_obs]
model_series = [
    (newport_f, newport_g, newport_h), (newlondon_f, newlondon_g, newlondon_h),
    (montauk_f, montauk_g, montauk_h), (newhaven_f, newhaven_g, newhaven_h),
    (bridgeport_f, bridgeport_g, bridgeport_h), (kingspoint_f, kingspoint_g, kingspoint_h),
    (battery_f, battery_g, battery_h), (sandyhook_f, sandyhook_g, sandyhook_h),
    (atlanticcity_f, atlanticcity_g, atlanticcity_h), (capemay_f, capemay_g, capemay_h)]

run_colors = ["cyan", "forestgreen", "blue"]
run_styles = ["--", "-", "-."]

sns.set_style("ticks", {"axes.grid": True, "grid.color": "#e6e6e6",
                        "axes.edgecolor": "black", "xtick.color": "black",
                        "ytick.color": "black", "text.color": "black",
                        "axes.labelcolor": "black"})
plt.rcParams["font.family"] = ["DejaVu Sans"]

fig, axes = plt.subplots(5, 2, figsize=(20, 25))
fig.subplots_adjust(left=0.039, right=0.9895, top=0.9827, bottom=0.0655,
                    wspace=0.0896, hspace=0.1754)

t0 = pd.Timestamp(t_start)
for i, ax in enumerate(axes.flat):
    obs = obs_series[i]
    t_obs = pd.date_range(t_start, periods=len(obs), freq=obs_freq)
    sns.scatterplot(x=t_obs, y=obs, ax=ax, color="red", s=15, linewidth=0,
                    label="Obs", zorder=3)
    if i == 4:
        t_spk = t0 + pd.to_timedelta(bridgeport_spike_day, unit="D")
        sns.scatterplot(x=t_spk, y=bridgeport_spike_temp, ax=ax, color="red",
                        s=12, linewidth=0, zorder=3)
    for vals, name, col, ls in zip(model_series[i], run_names, run_colors, run_styles):
        t_mod = pd.date_range(t_start, periods=len(vals), freq=model_freq)
        sns.lineplot(x=t_mod, y=vals, ax=ax, color=col, linestyle=ls,
                     linewidth=1.0, label=name, zorder=4)

    ax.set_xlim(pd.Timestamp("2016-12-01"), pd.Timestamp("2017-01-01"))
    ax.set_ylim(*y_limits[i])
    ax.yaxis.set_major_locator(MultipleLocator(5))
    ax.set_xticks(pd.to_datetime(tick_days))
    ax.set_xticklabels(tick_labels)
    ax.grid(True, color="#e6e6e6", linewidth=1.0)
    ax.tick_params(labelsize=10.6, length=3.9, width=0.85)
    for sp in ax.spines.values():
        sp.set_linewidth(0.9)
    ax.set_xlabel("")
    ax.set_ylabel("Temperature (°C)", fontsize=11.8)
    ax.set_title(station_names[i], fontsize=12.5)
    ax.text(0.04, 0.912, f"sensor z={sensor_z[i]} m (below datum), tz=GMT",
            transform=ax.transAxes, fontsize=10, fontweight="bold", va="center")
    if i == 0:
        ax.legend(loc="upper right", fontsize=9.8, frameon=True, fancybox=True,
                  edgecolor="0.8", framealpha=0.8, markerscale=0.7)
    elif ax.get_legend() is not None:
        ax.get_legend().remove()

fig.text(0.5016, 0.0116, "Time", ha="center", va="center", fontsize=14)
fig.savefig("out.png", dpi=200)
